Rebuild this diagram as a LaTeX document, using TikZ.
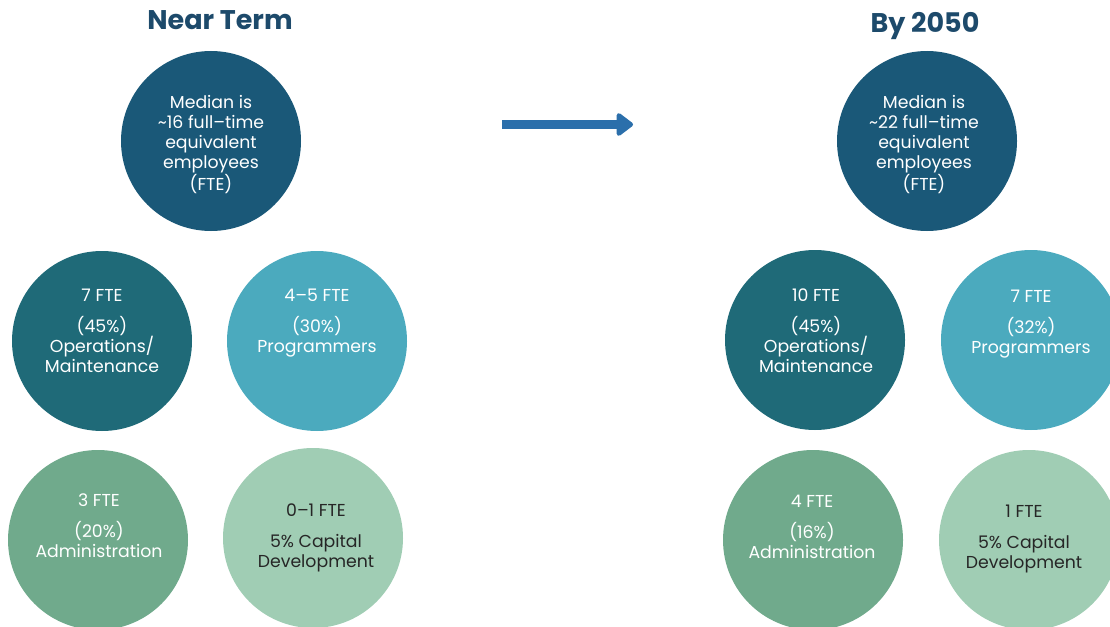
\documentclass[tikz,border=0pt]{standalone}
\usepackage{fontspec}
\setmainfont{Poppins}
\usetikzlibrary{arrows.meta}
\definecolor{navy}{HTML}{1A5878}
\definecolor{tealdark}{HTML}{1F6A78}
\definecolor{teallight}{HTML}{4BAABE}
\definecolor{greenmid}{HTML}{70AA8C}
\definecolor{greenlight}{HTML}{A0CDB4}
\definecolor{titlecol}{HTML}{1D4A6B}
\definecolor{arrowcol}{HTML}{2B6FAB}
\begin{document}
\begin{tikzpicture}[x=1pt,y=-1pt,
  bubble/.style={circle,minimum size=180pt,inner sep=0pt,draw=none},
  ctext/.style={align=center,anchor=north,inner sep=0pt,font=\fontsize{17.3}{20}\selectfont,text=white},
  dtext/.style={ctext,text=black!85},
  title/.style={font=\fontsize{27}{30}\bfseries\selectfont,text=titlecol}]
\useasboundingbox (0,0) rectangle (1110,626);
% titles
\node[title] (t1) at (220,20) {Near Term};
\node[title] (t2) at (925,26) {By 2050};
% left circles
\node[bubble,fill=navy] (a0) at (211,141) {};
\node[bubble,fill=tealdark] (a1) at (102,341) {};
\node[bubble,fill=teallight] (a2) at (317,341) {};
\node[bubble,fill=greenmid] (a3) at (98,540) {};
\node[bubble,fill=greenlight] (a4) at (313,538) {};
% right circles
\node[bubble,fill=navy] (b0) at (927,141) {};
\node[bubble,fill=tealdark] (b1) at (815,340) {};
\node[bubble,fill=teallight] (b2) at (1031,340) {};
\node[bubble,fill=greenmid] (b3) at (813,540) {};
\node[bubble,fill=greenlight] (b4) at (1029,540) {};
% texts
\node[ctext] (ta0) at (211,95) {Median is\\\textasciitilde16 full–time\\equivalent\\employees\\(FTE)};
\node[ctext] (ta1) at (102,289) {7 FTE\\[11pt](45\%)\\Operations/\\Maintenance};
\node[ctext] (ta2) at (317,289) {4–5 FTE\\[11pt](30\%)\\Programmers};
\node[ctext] (ta3) at (99,494) {3 FTE\\[11pt](20\%)\\Administration};
\node[dtext] (ta4) at (316,504) {0–1 FTE\\[11pt]5\% Capital\\Development};
\node[ctext] (tb0) at (924,95) {Median is\\\textasciitilde22 full–time\\equivalent\\employees\\(FTE)};
\node[ctext] (tb1) at (816,289) {10 FTE\\[11pt](45\%)\\Operations/\\Maintenance};
\node[ctext] (tb2) at (1031,290) {7 FTE\\[11pt](32\%)\\Programmers};
\node[ctext] (tb3) at (812,495) {4 FTE\\[11pt](16\%)\\Administration};
\node[dtext] (tb4) at (1024,505) {1 FTE\\[11pt]5\% Capital\\Development};
% arrow
\coordinate (arrS) at (502,124.5);
\coordinate (arrE) at (633,124.5);
\draw[arrowcol,line width=9pt,-{Triangle[length=18pt,width=26pt,round]}] (arrS) -- (arrE);
\end{tikzpicture}
\end{document}
